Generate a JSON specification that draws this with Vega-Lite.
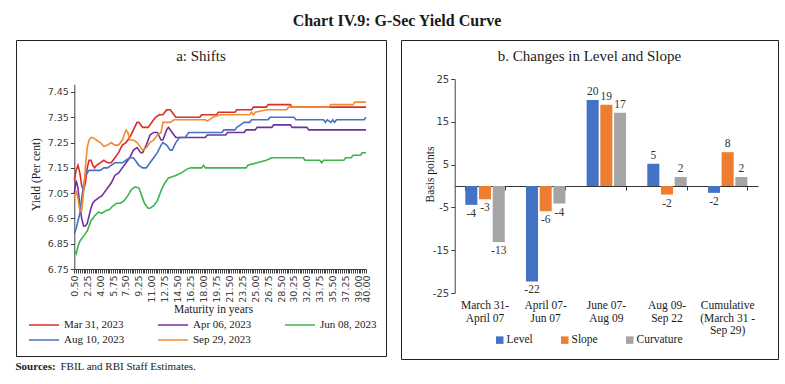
{
  "$schema": "https://vega.github.io/schema/vega-lite/v6.json",
  "padding": {"left": 15, "top": 12, "right": 0, "bottom": 0},
  "background": "white",
  "config": {
    "view": {"stroke": "#222222", "strokeWidth": 1},
    "font": "Liberation Serif",
    "title": {"color": "#1a1a1a", "font": "Liberation Serif"}
  },
  "datasets": {
    "curves": [
      {"d":"Mar 31, 2023","m":0.5,"y":7.10},{"d":"Mar 31, 2023","m":0.75,"y":7.14},{"d":"Mar 31, 2023","m":1.0,"y":7.16},{"d":"Mar 31, 2023","m":1.25,"y":7.13},{"d":"Mar 31, 2023","m":1.5,"y":7.08},{"d":"Mar 31, 2023","m":1.75,"y":7.06},{"d":"Mar 31, 2023","m":2.0,"y":7.09},{"d":"Mar 31, 2023","m":2.25,"y":7.15},{"d":"Mar 31, 2023","m":2.5,"y":7.18},{"d":"Mar 31, 2023","m":2.75,"y":7.18},{"d":"Mar 31, 2023","m":3.0,"y":7.16},{"d":"Mar 31, 2023","m":3.25,"y":7.15},{"d":"Mar 31, 2023","m":3.5,"y":7.16},{"d":"Mar 31, 2023","m":4.0,"y":7.17},{"d":"Mar 31, 2023","m":4.5,"y":7.18},{"d":"Mar 31, 2023","m":5.0,"y":7.17},{"d":"Mar 31, 2023","m":5.5,"y":7.17},{"d":"Mar 31, 2023","m":6.0,"y":7.19},{"d":"Mar 31, 2023","m":6.5,"y":7.21},{"d":"Mar 31, 2023","m":7.0,"y":7.24},{"d":"Mar 31, 2023","m":7.5,"y":7.25},{"d":"Mar 31, 2023","m":8.0,"y":7.27},{"d":"Mar 31, 2023","m":8.5,"y":7.30},{"d":"Mar 31, 2023","m":9.0,"y":7.33},{"d":"Mar 31, 2023","m":9.25,"y":7.33},{"d":"Mar 31, 2023","m":9.75,"y":7.31},{"d":"Mar 31, 2023","m":10.5,"y":7.31},{"d":"Mar 31, 2023","m":11.0,"y":7.33},{"d":"Mar 31, 2023","m":11.5,"y":7.35},{"d":"Mar 31, 2023","m":12.0,"y":7.36},{"d":"Mar 31, 2023","m":12.5,"y":7.36},{"d":"Mar 31, 2023","m":13.0,"y":7.38},{"d":"Mar 31, 2023","m":13.5,"y":7.38},{"d":"Mar 31, 2023","m":13.75,"y":7.37},{"d":"Mar 31, 2023","m":14.25,"y":7.35},{"d":"Mar 31, 2023","m":17.5,"y":7.35},{"d":"Mar 31, 2023","m":17.75,"y":7.36},{"d":"Mar 31, 2023","m":19.75,"y":7.36},{"d":"Mar 31, 2023","m":20.0,"y":7.37},{"d":"Mar 31, 2023","m":22.25,"y":7.37},{"d":"Mar 31, 2023","m":22.5,"y":7.38},{"d":"Mar 31, 2023","m":24.5,"y":7.38},{"d":"Mar 31, 2023","m":24.75,"y":7.39},{"d":"Mar 31, 2023","m":26.5,"y":7.39},{"d":"Mar 31, 2023","m":26.75,"y":7.40},{"d":"Mar 31, 2023","m":29.75,"y":7.40},{"d":"Mar 31, 2023","m":30.0,"y":7.39},{"d":"Mar 31, 2023","m":40.0,"y":7.39},
      {"d":"Apr 06, 2023","m":0.5,"y":7.05},{"d":"Apr 06, 2023","m":0.75,"y":7.10},{"d":"Apr 06, 2023","m":1.0,"y":7.07},{"d":"Apr 06, 2023","m":1.25,"y":7.00},{"d":"Apr 06, 2023","m":1.5,"y":6.95},{"d":"Apr 06, 2023","m":1.75,"y":6.92},{"d":"Apr 06, 2023","m":2.0,"y":6.92},{"d":"Apr 06, 2023","m":2.25,"y":6.93},{"d":"Apr 06, 2023","m":2.5,"y":6.96},{"d":"Apr 06, 2023","m":2.75,"y":6.99},{"d":"Apr 06, 2023","m":3.0,"y":7.01},{"d":"Apr 06, 2023","m":3.25,"y":7.02},{"d":"Apr 06, 2023","m":3.75,"y":7.03},{"d":"Apr 06, 2023","m":4.25,"y":7.04},{"d":"Apr 06, 2023","m":4.5,"y":7.05},{"d":"Apr 06, 2023","m":5.0,"y":7.07},{"d":"Apr 06, 2023","m":5.5,"y":7.09},{"d":"Apr 06, 2023","m":6.0,"y":7.12},{"d":"Apr 06, 2023","m":6.5,"y":7.13},{"d":"Apr 06, 2023","m":7.0,"y":7.15},{"d":"Apr 06, 2023","m":7.5,"y":7.17},{"d":"Apr 06, 2023","m":8.0,"y":7.19},{"d":"Apr 06, 2023","m":8.5,"y":7.22},{"d":"Apr 06, 2023","m":9.0,"y":7.23},{"d":"Apr 06, 2023","m":9.5,"y":7.21},{"d":"Apr 06, 2023","m":9.75,"y":7.21},{"d":"Apr 06, 2023","m":10.25,"y":7.24},{"d":"Apr 06, 2023","m":10.75,"y":7.28},{"d":"Apr 06, 2023","m":11.25,"y":7.29},{"d":"Apr 06, 2023","m":11.75,"y":7.29},{"d":"Apr 06, 2023","m":12.25,"y":7.26},{"d":"Apr 06, 2023","m":12.5,"y":7.26},{"d":"Apr 06, 2023","m":13.0,"y":7.30},{"d":"Apr 06, 2023","m":13.25,"y":7.31},{"d":"Apr 06, 2023","m":13.75,"y":7.29},{"d":"Apr 06, 2023","m":14.25,"y":7.27},{"d":"Apr 06, 2023","m":18.25,"y":7.27},{"d":"Apr 06, 2023","m":18.5,"y":7.28},{"d":"Apr 06, 2023","m":21.0,"y":7.28},{"d":"Apr 06, 2023","m":21.25,"y":7.29},{"d":"Apr 06, 2023","m":23.5,"y":7.29},{"d":"Apr 06, 2023","m":23.75,"y":7.30},{"d":"Apr 06, 2023","m":25.0,"y":7.30},{"d":"Apr 06, 2023","m":25.25,"y":7.31},{"d":"Apr 06, 2023","m":27.25,"y":7.31},{"d":"Apr 06, 2023","m":27.5,"y":7.32},{"d":"Apr 06, 2023","m":29.75,"y":7.32},{"d":"Apr 06, 2023","m":30.0,"y":7.31},{"d":"Apr 06, 2023","m":32.0,"y":7.31},{"d":"Apr 06, 2023","m":32.25,"y":7.30},{"d":"Apr 06, 2023","m":40.0,"y":7.30},
      {"d":"Jun 08, 2023","m":0.5,"y":6.82},{"d":"Jun 08, 2023","m":0.75,"y":6.81},{"d":"Jun 08, 2023","m":1.0,"y":6.84},{"d":"Jun 08, 2023","m":1.25,"y":6.86},{"d":"Jun 08, 2023","m":1.5,"y":6.87},{"d":"Jun 08, 2023","m":1.75,"y":6.88},{"d":"Jun 08, 2023","m":2.0,"y":6.89},{"d":"Jun 08, 2023","m":2.25,"y":6.90},{"d":"Jun 08, 2023","m":2.5,"y":6.92},{"d":"Jun 08, 2023","m":2.75,"y":6.94},{"d":"Jun 08, 2023","m":3.0,"y":6.95},{"d":"Jun 08, 2023","m":3.25,"y":6.96},{"d":"Jun 08, 2023","m":3.75,"y":6.975},{"d":"Jun 08, 2023","m":4.25,"y":6.97},{"d":"Jun 08, 2023","m":4.75,"y":6.98},{"d":"Jun 08, 2023","m":5.25,"y":6.985},{"d":"Jun 08, 2023","m":5.75,"y":7.00},{"d":"Jun 08, 2023","m":6.25,"y":7.01},{"d":"Jun 08, 2023","m":6.75,"y":7.01},{"d":"Jun 08, 2023","m":7.25,"y":7.02},{"d":"Jun 08, 2023","m":7.75,"y":7.04},{"d":"Jun 08, 2023","m":8.25,"y":7.065},{"d":"Jun 08, 2023","m":8.75,"y":7.075},{"d":"Jun 08, 2023","m":9.25,"y":7.07},{"d":"Jun 08, 2023","m":9.5,"y":7.05},{"d":"Jun 08, 2023","m":10.0,"y":7.01},{"d":"Jun 08, 2023","m":10.5,"y":6.99},{"d":"Jun 08, 2023","m":10.75,"y":6.99},{"d":"Jun 08, 2023","m":11.25,"y":7.00},{"d":"Jun 08, 2023","m":11.75,"y":7.02},{"d":"Jun 08, 2023","m":12.25,"y":7.06},{"d":"Jun 08, 2023","m":12.75,"y":7.09},{"d":"Jun 08, 2023","m":13.25,"y":7.11},{"d":"Jun 08, 2023","m":13.75,"y":7.115},{"d":"Jun 08, 2023","m":14.25,"y":7.12},{"d":"Jun 08, 2023","m":15.0,"y":7.13},{"d":"Jun 08, 2023","m":15.75,"y":7.145},{"d":"Jun 08, 2023","m":16.25,"y":7.15},{"d":"Jun 08, 2023","m":17.75,"y":7.15},{"d":"Jun 08, 2023","m":18.0,"y":7.16},{"d":"Jun 08, 2023","m":18.25,"y":7.15},{"d":"Jun 08, 2023","m":23.75,"y":7.15},{"d":"Jun 08, 2023","m":24.0,"y":7.16},{"d":"Jun 08, 2023","m":25.25,"y":7.17},{"d":"Jun 08, 2023","m":26.5,"y":7.18},{"d":"Jun 08, 2023","m":27.25,"y":7.19},{"d":"Jun 08, 2023","m":31.5,"y":7.19},{"d":"Jun 08, 2023","m":31.75,"y":7.18},{"d":"Jun 08, 2023","m":33.75,"y":7.18},{"d":"Jun 08, 2023","m":34.0,"y":7.17},{"d":"Jun 08, 2023","m":34.25,"y":7.18},{"d":"Jun 08, 2023","m":37.0,"y":7.18},{"d":"Jun 08, 2023","m":37.25,"y":7.19},{"d":"Jun 08, 2023","m":38.0,"y":7.19},{"d":"Jun 08, 2023","m":38.25,"y":7.20},{"d":"Jun 08, 2023","m":39.25,"y":7.20},{"d":"Jun 08, 2023","m":39.5,"y":7.21},{"d":"Jun 08, 2023","m":40.0,"y":7.21},
      {"d":"Aug 10, 2023","m":0.5,"y":6.89},{"d":"Aug 10, 2023","m":0.75,"y":6.91},{"d":"Aug 10, 2023","m":1.0,"y":6.94},{"d":"Aug 10, 2023","m":1.25,"y":6.97},{"d":"Aug 10, 2023","m":1.5,"y":7.03},{"d":"Aug 10, 2023","m":1.75,"y":7.08},{"d":"Aug 10, 2023","m":2.0,"y":7.12},{"d":"Aug 10, 2023","m":2.25,"y":7.13},{"d":"Aug 10, 2023","m":2.5,"y":7.14},{"d":"Aug 10, 2023","m":4.0,"y":7.14},{"d":"Aug 10, 2023","m":4.5,"y":7.15},{"d":"Aug 10, 2023","m":5.0,"y":7.15},{"d":"Aug 10, 2023","m":5.5,"y":7.16},{"d":"Aug 10, 2023","m":6.0,"y":7.17},{"d":"Aug 10, 2023","m":7.0,"y":7.17},{"d":"Aug 10, 2023","m":7.5,"y":7.18},{"d":"Aug 10, 2023","m":8.0,"y":7.19},{"d":"Aug 10, 2023","m":8.5,"y":7.19},{"d":"Aug 10, 2023","m":8.75,"y":7.18},{"d":"Aug 10, 2023","m":9.25,"y":7.16},{"d":"Aug 10, 2023","m":9.75,"y":7.15},{"d":"Aug 10, 2023","m":10.25,"y":7.15},{"d":"Aug 10, 2023","m":10.75,"y":7.17},{"d":"Aug 10, 2023","m":11.25,"y":7.19},{"d":"Aug 10, 2023","m":11.75,"y":7.21},{"d":"Aug 10, 2023","m":12.25,"y":7.24},{"d":"Aug 10, 2023","m":12.5,"y":7.25},{"d":"Aug 10, 2023","m":13.0,"y":7.24},{"d":"Aug 10, 2023","m":13.5,"y":7.22},{"d":"Aug 10, 2023","m":13.75,"y":7.22},{"d":"Aug 10, 2023","m":14.25,"y":7.25},{"d":"Aug 10, 2023","m":14.75,"y":7.27},{"d":"Aug 10, 2023","m":15.5,"y":7.27},{"d":"Aug 10, 2023","m":15.75,"y":7.28},{"d":"Aug 10, 2023","m":16.0,"y":7.29},{"d":"Aug 10, 2023","m":20.5,"y":7.29},{"d":"Aug 10, 2023","m":20.75,"y":7.30},{"d":"Aug 10, 2023","m":22.25,"y":7.30},{"d":"Aug 10, 2023","m":22.5,"y":7.31},{"d":"Aug 10, 2023","m":23.0,"y":7.32},{"d":"Aug 10, 2023","m":23.5,"y":7.33},{"d":"Aug 10, 2023","m":24.25,"y":7.33},{"d":"Aug 10, 2023","m":24.5,"y":7.34},{"d":"Aug 10, 2023","m":26.75,"y":7.34},{"d":"Aug 10, 2023","m":27.0,"y":7.35},{"d":"Aug 10, 2023","m":30.25,"y":7.35},{"d":"Aug 10, 2023","m":30.5,"y":7.34},{"d":"Aug 10, 2023","m":34.25,"y":7.34},{"d":"Aug 10, 2023","m":34.5,"y":7.33},{"d":"Aug 10, 2023","m":34.75,"y":7.34},{"d":"Aug 10, 2023","m":35.25,"y":7.33},{"d":"Aug 10, 2023","m":35.5,"y":7.34},{"d":"Aug 10, 2023","m":35.75,"y":7.33},{"d":"Aug 10, 2023","m":36.0,"y":7.34},{"d":"Aug 10, 2023","m":39.75,"y":7.34},{"d":"Aug 10, 2023","m":40.0,"y":7.35},
      {"d":"Sep 29, 2023","m":0.5,"y":7.03},{"d":"Sep 29, 2023","m":0.75,"y":7.06},{"d":"Sep 29, 2023","m":1.0,"y":7.03},{"d":"Sep 29, 2023","m":1.25,"y":6.98},{"d":"Sep 29, 2023","m":1.5,"y":6.98},{"d":"Sep 29, 2023","m":1.75,"y":7.05},{"d":"Sep 29, 2023","m":2.0,"y":7.15},{"d":"Sep 29, 2023","m":2.25,"y":7.23},{"d":"Sep 29, 2023","m":2.5,"y":7.26},{"d":"Sep 29, 2023","m":2.75,"y":7.27},{"d":"Sep 29, 2023","m":3.0,"y":7.27},{"d":"Sep 29, 2023","m":3.5,"y":7.26},{"d":"Sep 29, 2023","m":4.0,"y":7.25},{"d":"Sep 29, 2023","m":4.5,"y":7.235},{"d":"Sep 29, 2023","m":5.0,"y":7.24},{"d":"Sep 29, 2023","m":5.5,"y":7.25},{"d":"Sep 29, 2023","m":6.0,"y":7.24},{"d":"Sep 29, 2023","m":6.5,"y":7.24},{"d":"Sep 29, 2023","m":7.0,"y":7.26},{"d":"Sep 29, 2023","m":7.5,"y":7.30},{"d":"Sep 29, 2023","m":7.75,"y":7.29},{"d":"Sep 29, 2023","m":8.0,"y":7.26},{"d":"Sep 29, 2023","m":8.5,"y":7.26},{"d":"Sep 29, 2023","m":9.0,"y":7.25},{"d":"Sep 29, 2023","m":9.5,"y":7.23},{"d":"Sep 29, 2023","m":9.75,"y":7.22},{"d":"Sep 29, 2023","m":10.25,"y":7.23},{"d":"Sep 29, 2023","m":10.75,"y":7.25},{"d":"Sep 29, 2023","m":11.25,"y":7.26},{"d":"Sep 29, 2023","m":11.75,"y":7.28},{"d":"Sep 29, 2023","m":12.25,"y":7.29},{"d":"Sep 29, 2023","m":12.5,"y":7.33},{"d":"Sep 29, 2023","m":13.5,"y":7.33},{"d":"Sep 29, 2023","m":14.0,"y":7.34},{"d":"Sep 29, 2023","m":18.25,"y":7.34},{"d":"Sep 29, 2023","m":18.5,"y":7.335},{"d":"Sep 29, 2023","m":18.75,"y":7.34},{"d":"Sep 29, 2023","m":19.25,"y":7.35},{"d":"Sep 29, 2023","m":20.25,"y":7.36},{"d":"Sep 29, 2023","m":24.25,"y":7.36},{"d":"Sep 29, 2023","m":24.5,"y":7.37},{"d":"Sep 29, 2023","m":24.75,"y":7.36},{"d":"Sep 29, 2023","m":25.0,"y":7.37},{"d":"Sep 29, 2023","m":26.5,"y":7.38},{"d":"Sep 29, 2023","m":29.25,"y":7.38},{"d":"Sep 29, 2023","m":29.5,"y":7.39},{"d":"Sep 29, 2023","m":35.0,"y":7.39},{"d":"Sep 29, 2023","m":35.25,"y":7.40},{"d":"Sep 29, 2023","m":38.25,"y":7.40},{"d":"Sep 29, 2023","m":38.5,"y":7.41},{"d":"Sep 29, 2023","m":40.0,"y":7.41}
    ],
    "bars": [
      {"p":"March 31-|April 07","c":"Level","v":-4.4},{"p":"March 31-|April 07","c":"Slope","v":-3.1},{"p":"March 31-|April 07","c":"Curvature","v":-13.1},
      {"p":"April 07-|Jun 07","c":"Level","v":-22.3},{"p":"April 07-|Jun 07","c":"Slope","v":-5.9},{"p":"April 07-|Jun 07","c":"Curvature","v":-4.1},
      {"p":"June 07-|Aug 09","c":"Level","v":20.1},{"p":"June 07-|Aug 09","c":"Slope","v":19.0},{"p":"June 07-|Aug 09","c":"Curvature","v":17.1},
      {"p":"Aug 09-|Sep 22","c":"Level","v":5.2},{"p":"Aug 09-|Sep 22","c":"Slope","v":-2.0},{"p":"Aug 09-|Sep 22","c":"Curvature","v":2.1},
      {"p":"Cumulative|(March 31 -|Sep 29)","c":"Level","v":-1.6},{"p":"Cumulative|(March 31 -|Sep 29)","c":"Slope","v":7.9},{"p":"Cumulative|(March 31 -|Sep 29)","c":"Curvature","v":2.1}
    ]
  },
  "title": {"text": "FBIL and RBI Staff Estimates.", "orient": "bottom", "anchor": "start", "dx": 45, "offset": -11, "fontSize": 11, "fontWeight": "normal", "baseline": "top"},
  "vconcat": [
    {
      "title": {"text": "Sources:", "orient": "bottom", "anchor": "start", "offset": 1, "fontSize": 11, "fontWeight": "bold", "baseline": "top"},
      "vconcat": [
        {
          "title": {"text": "Chart IV.9: G-Sec Yield Curve", "fontSize": 16, "fontWeight": "bold", "offset": 11, "anchor": "middle"},
          "spacing": 13,
          "resolve": {"scale": {"color": "independent"}, "legend": {"color": "independent"}},
          "hconcat": [
            {
              "width": 370,
              "height": 316,
              "title": {"text": "a: Shifts", "offset": -31, "baseline": "middle", "frame": "group", "fontSize": 15, "fontWeight": "normal"},
              "data": {"name": "curves"},
              "mark": {"type": "line", "strokeWidth": 1.6},
              "encoding": {
                "x": {
                  "field": "m", "type": "quantitative",
                  "scale": {"domain": [0.5, 40], "range": [58.3, 350], "nice": false, "zero": false},
                  "axis": {
                    "orient": "bottom", "offset": -87, "title": "Maturity in years",
                    "values": [0.5,0.75,1,1.25,1.5,1.75,2,2.25,2.5,2.75,3,3.25,3.5,3.75,4,4.25,4.5,4.75,5,5.25,5.5,5.75,6,6.25,6.5,6.75,7,7.25,7.5,7.75,8,8.25,8.5,8.75,9,9.25,9.5,9.75,10,10.25,10.5,10.75,11,11.25,11.5,11.75,12,12.25,12.5,12.75,13,13.25,13.5,13.75,14,14.25,14.5,14.75,15,15.25,15.5,15.75,16,16.25,16.5,16.75,17,17.25,17.5,17.75,18,18.25,18.5,18.75,19,19.25,19.5,19.75,20,20.25,20.5,20.75,21,21.25,21.5,21.75,22,22.25,22.5,22.75,23,23.25,23.5,23.75,24,24.25,24.5,24.75,25,25.25,25.5,25.75,26,26.25,26.5,26.75,27,27.25,27.5,27.75,28,28.25,28.5,28.75,29,29.25,29.5,29.75,30,30.25,30.5,30.75,31,31.25,31.5,31.75,32,32.25,32.5,32.75,33,33.25,33.5,33.75,34,34.25,34.5,34.75,35,35.25,35.5,35.75,36,36.25,36.5,36.75,37,37.25,37.5,37.75,38,38.25,38.5,38.75,39,39.25,39.5,39.75,40],
                    "labelExpr": "(round((datum.value - 0.5) * 4) % 7 == 0 || datum.value == 40) ? format(datum.value, '.2f') : ''",
                    "labelAngle": -90, "labelFlush": false, "labelOverlap": false, "labelBound": false,
                    "labelFont": "DejaVu Sans", "labelFontSize": 9.5, "labelColor": "#404040", "labelPadding": 2,
                    "tickSize": 4, "tickColor": "#404040", "domainColor": "#404040", "grid": false,
                    "titleFont": "Liberation Serif", "titleFontSize": 11.5, "titleFontWeight": "normal", "titleColor": "#1a1a1a",
                    "titleX": 197, "titleY": 40, "titleBaseline": "middle"
                  }
                },
                "y": {
                  "field": "y", "type": "quantitative",
                  "scale": {"domain": [6.75, 7.48], "range": [229, 44.4], "nice": false, "zero": false},
                  "axis": {
                    "orient": "left", "offset": -58.3, "title": "Yield (Per cent)",
                    "values": [6.75,6.85,6.95,7.05,7.15,7.25,7.35,7.45], "format": ".2f",
                    "labelFont": "DejaVu Sans", "labelFontSize": 9.5, "labelColor": "#404040", "labelPadding": 2,
                    "tickSize": 4, "tickColor": "#404040", "domainColor": "#404040", "grid": false,
                    "titleFont": "Liberation Serif", "titleFontSize": 11.5, "titleFontWeight": "normal", "titleColor": "#1a1a1a",
                    "titleX": -38.3, "titleY": 134, "titleAngle": -90, "titleBaseline": "middle", "titleAlign": "center"
                  }
                },
                "color": {
                  "field": "d", "type": "nominal",
                  "scale": {"domain": ["Mar 31, 2023","Apr 06, 2023","Jun 08, 2023","Aug 10, 2023","Sep 29, 2023"], "range": ["#D92E26","#7030A0","#3CB44A","#4472C4","#F38B2E"]},
                  "legend": {
                    "orient": "none", "legendX": 22, "legendY": 279, "columns": 3, "direction": "horizontal", "title": null,
                    "symbolType": "M-3,0H3", "symbolSize": 100, "symbolStrokeWidth": 1.5,
                    "labelFont": "Liberation Serif", "labelFontSize": 11, "labelColor": "#1a1a1a", "labelOffset": 14,
                    "columnPadding": 30, "rowPadding": 4, "padding": 0
                  }
                }
              }
            },
            {
              "width": 377,
              "height": 319,
              "title": {"text": "b. Changes in Level and Slope", "offset": -31, "baseline": "middle", "frame": "group", "fontSize": 15, "fontWeight": "normal"},
              "data": {"name": "bars"},
              "layer": [
                {
                  "mark": {"type": "bar"},
                  "encoding": {
                    "x": {
                      "field": "p", "type": "nominal", "sort": null,
                      "scale": {"range": [53.7, 357], "paddingInner": 0.35, "paddingOuter": 0.175},
                      "axis": {
                        "orient": "bottom", "offset": -173, "title": null, "labels": false,
                        "domain": true, "domainColor": "#333333", "ticks": true, "tickBand": "extent", "tickSize": 4, "tickColor": "#333333", "grid": false
                      }
                    },
                    "xOffset": {"field": "c", "sort": ["Level","Slope","Curvature"], "scale": {"paddingInner": 0.12}},
                    "y": {
                      "field": "v", "type": "quantitative",
                      "scale": {"domain": [-25, 25], "range": [253, 39], "nice": false},
                      "axis": {
                        "orient": "left", "offset": -53.7, "title": "Basis points",
                        "values": [-25,-20,-15,-10,-5,0,5,10,15,20,25], "labelExpr": "'' + datum.value",
                        "labelFont": "DejaVu Sans", "labelFontSize": 10, "labelColor": "#404040", "labelPadding": 2,
                        "tickSize": 4, "tickColor": "#404040", "domainColor": "#404040", "grid": false,
                        "titleFont": "Liberation Serif", "titleFontSize": 11.5, "titleFontWeight": "normal", "titleColor": "#1a1a1a",
                        "titleX": -24.7, "titleY": 134, "titleAngle": -90, "titleBaseline": "middle", "titleAlign": "center"
                      }
                    },
                    "color": {
                      "field": "c", "type": "nominal",
                      "scale": {"domain": ["Level","Slope","Curvature"], "range": ["#4472C4","#ED7D31","#A5A5A5"]},
                      "legend": {
                        "orient": "none", "legendX": 93, "legendY": 294, "columns": 3, "direction": "horizontal", "title": null,
                        "symbolType": "square", "symbolSize": 56, "symbolStrokeWidth": 0,
                        "labelFont": "Liberation Serif", "labelFontSize": 11.5, "labelColor": "#1a1a1a", "labelOffset": 1,
                        "columnPadding": 26, "padding": 0
                      }
                    }
                  }
                },
                {
                  "transform": [{"filter": "datum.v >= 0"}, {"calculate": "'' + round(datum.v)", "as": "lbl"}],
                  "mark": {"type": "text", "baseline": "bottom", "dy": -3, "font": "Liberation Serif", "fontSize": 11.5, "color": "#333333"},
                  "encoding": {
                    "x": {"field": "p", "type": "nominal", "sort": null},
                    "xOffset": {"field": "c", "sort": ["Level","Slope","Curvature"]},
                    "y": {"field": "v", "type": "quantitative"},
                    "text": {"field": "lbl", "type": "nominal"}
                  }
                },
                {
                  "transform": [{"filter": "datum.v < 0"}, {"calculate": "'' + round(datum.v)", "as": "lbl"}],
                  "mark": {"type": "text", "baseline": "top", "dy": 3, "font": "Liberation Serif", "fontSize": 11.5, "color": "#333333"},
                  "encoding": {
                    "x": {"field": "p", "type": "nominal", "sort": null},
                    "xOffset": {"field": "c", "sort": ["Level","Slope","Curvature"]},
                    "y": {"field": "v", "type": "quantitative"},
                    "text": {"field": "lbl", "type": "nominal"}
                  }
                },
                {
                  "transform": [{"filter": "datum.c == 'Level'"}],
                  "mark": {"type": "text", "baseline": "top", "dy": 7, "lineBreak": "|", "lineHeight": 12.5, "font": "Liberation Serif", "fontSize": 11.5, "color": "#1a1a1a"},
                  "encoding": {
                    "x": {"field": "p", "type": "nominal", "sort": null},
                    "y": {"datum": -25, "type": "quantitative"},
                    "text": {"field": "p", "type": "nominal"}
                  }
                }
              ]
            }
          ]
        }
      ]
    }
  ]
}
